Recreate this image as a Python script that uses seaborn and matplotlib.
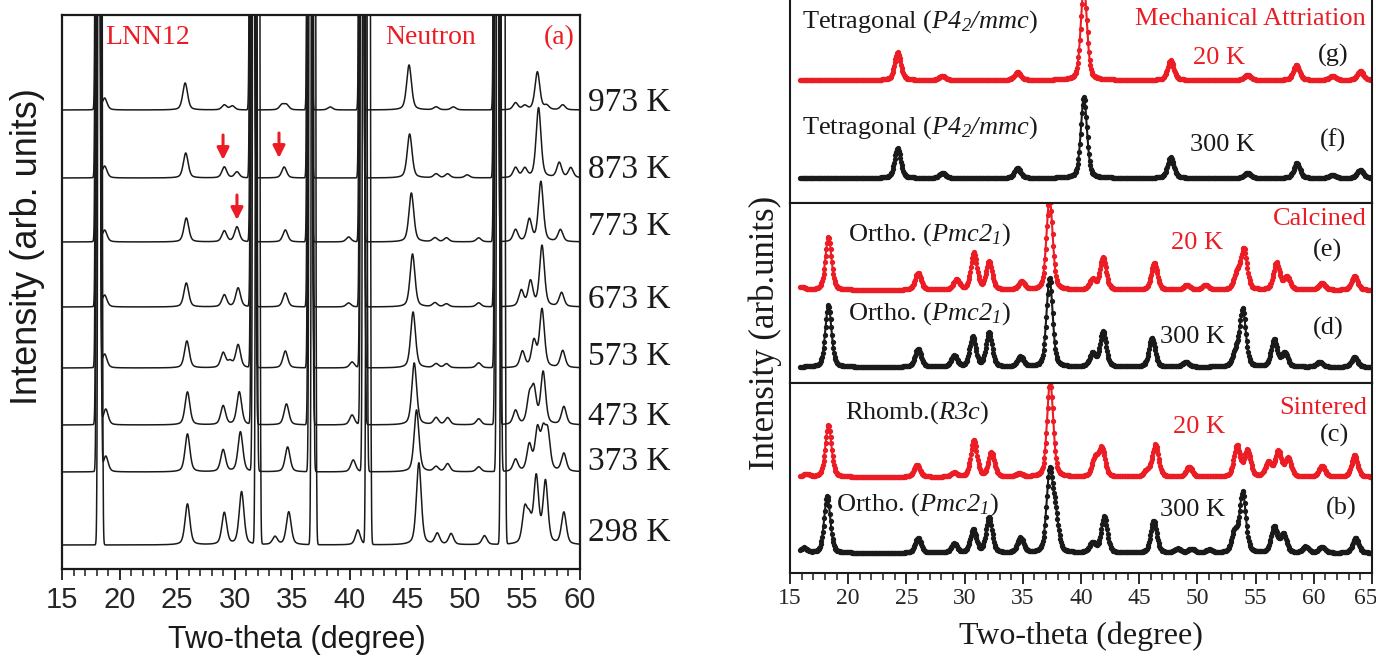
import numpy as np
import matplotlib
matplotlib.use('Agg')
import matplotlib.pyplot as plt
from matplotlib.transforms import ScaledTranslation
import seaborn as sns

# ---------------- data (left panel: LNN12 neutron patterns) ----------------
temps = ['973 K', '873 K', '773 K', '673 K', '573 K', '473 K', '373 K', '298 K']
left_base = [459, 391, 327, 262, 201, 144, 97, 24]          # baseline level (arb.)
big_973 = [18.10, 31.50, 36.50, 41.00, 52.70]
big_873 = [18.10, 31.52, 36.50, 41.00, 52.70]
big_773 = [18.10, 31.55, 36.50, 41.02, 52.72]
big_673 = [18.12, 31.58, 36.52, 41.05, 52.75]
big_573 = [18.12, 31.60, 36.55, 41.08, 52.78]
big_473 = [18.15, 31.65, 36.58, 41.12, 52.82]
big_373 = [18.20, 31.75, 36.65, 41.30, 52.95]
big_298 = [18.30, 32.00, 36.85, 41.60, 53.30]
big_height = 5000

pos_973 = [18.7, 25.7, 29.1, 29.8, 34.1, 34.5, 38.3, 45.15, 47.5, 49.0, 54.4, 55.2, 56.3, 57.1, 58.5]
hgt_973 = [12, 27, 5, 4, 5, 5, 3, 45, 3, 3, 7, 4, 38, 4, 5]
pos_873 = [18.7, 25.75, 29.1, 30.2, 34.3, 45.2, 47.5, 48.5, 50.2, 54.4, 55.2, 56.4, 58.2, 59.2]
hgt_873 = [12, 25, 11, 6, 11, 44, 4, 4, 3, 10, 9, 70, 15, 10]
pos_773 = [18.7, 25.8, 29.1, 30.2, 34.4, 39.9, 45.35, 47.4, 48.4, 51.2, 54.4, 55.6, 56.6, 58.3]
hgt_773 = [12, 24, 11, 15, 12, 5, 49, 4, 4, 4, 12, 22, 60, 12]
pos_673 = [18.7, 25.8, 29.1, 30.3, 34.4, 39.9, 45.45, 47.4, 48.4, 51.2, 54.9, 55.7, 56.7, 58.4]
hgt_673 = [12, 24, 12, 19, 14, 4, 53, 4, 3, 4, 16, 25, 61, 14]
pos_573 = [18.7, 25.85, 29.0, 29.6, 30.3, 34.4, 40.2, 45.5, 47.5, 48.4, 51.2, 55.0, 56.0, 56.7, 58.5]
hgt_573 = [14, 27, 15, 6, 23, 17, 6, 56, 4, 4, 5, 16, 26, 58, 17]
pos_473 = [18.8, 25.9, 29.0, 30.4, 34.5, 40.2, 45.6, 47.5, 48.5, 51.2, 54.4, 55.6, 56.0, 56.8, 58.6]
hgt_473 = [16, 33, 19, 33, 21, 10, 62, 7, 7, 6, 14, 26, 33, 52, 18]
pos_373 = [18.8, 25.9, 29.0, 30.5, 34.6, 40.3, 45.8, 47.5, 48.5, 51.2, 54.4, 55.6, 56.3, 56.8, 57.2, 58.6]
hgt_373 = [16, 38, 22, 40, 25, 12, 62, 5, 8, 5, 12, 26, 40, 35, 36, 18]
pos_298 = [25.9, 29.1, 30.6, 33.5, 34.7, 40.7, 46.0, 47.6, 48.8, 51.7, 55.2, 55.6, 56.2, 57.0, 58.6]
hgt_298 = [41, 32, 53, 8, 33, 15, 82, 11, 11, 9, 33, 22, 66, 62, 32]

# ---------------- data (right panel) ----------------
# (g) mechanical attrition 20 K, (f) 300 K
base_g, base_f = 123, 25
pos_g = [24.25, 28.1, 34.55, 40.25, 47.7, 54.3, 58.5, 61.6, 64.0]
hgt_g = [28, 4, 8, 95, 20, 5, 15, 4, 9]
pos_f = [24.25, 28.1, 34.55, 40.25, 47.7, 54.3, 58.55, 61.6, 64.0]
hgt_f = [30, 5, 10, 81, 21, 5, 15, 3, 8]
# (e) calcined 20 K, (d) 300 K
base_e, base_d = 93, 16
pos_e = [16.0, 18.3, 26.0, 29.3, 30.8, 32.1, 34.9, 37.3, 41.0, 41.9, 46.3, 49.1, 50.7, 53.4, 54.0, 56.8, 57.7, 60.7, 63.5]
hgt_e = [3, 53, 17, 10, 37, 28, 8, 92, 10, 32, 27, 5, 5, 16, 40, 27, 13, 7, 14]
pos_d = [18.3, 26.0, 29.1, 30.7, 32.1, 34.8, 37.3, 41.0, 41.9, 46.1, 49.0, 53.3, 53.9, 56.6, 57.5, 60.5, 63.5]
hgt_d = [62, 18, 11, 30, 34, 10, 89, 13, 35, 29, 5, 14, 57, 27, 14, 5, 10]
# (c) sintered 20 K, (b) 300 K
base_c, base_b = 96, 20
pos_c = [16.4, 18.3, 25.9, 29.1, 30.8, 32.3, 34.7, 37.35, 41.2, 41.8, 45.7, 46.4, 49.3, 53.4, 54.3, 56.1, 56.95, 57.8, 60.7, 63.5]
hgt_c = [3, 52, 12, 4, 37, 24, 3, 96, 18, 28, 6, 32, 10, 31, 26, 14, 25, 18, 11, 22]
pos_b = [16.2, 18.2, 26.0, 29.1, 30.75, 32.1, 34.8, 37.3, 37.8, 41.0, 42.0, 46.25, 48.3, 49.5, 51.0, 53.2, 53.9, 56.6, 57.4, 59.3, 60.7, 63.6]
hgt_b = [5, 57, 15, 9, 23, 35, 15, 78, 35, 10, 36, 32, 4, 4, 3, 20, 60, 26, 18, 6, 6, 15]

xticks_left = [15, 20, 25, 30, 35, 40, 45, 50, 55, 60]
xticks_right = [15, 20, 25, 30, 35, 40, 45, 50, 55, 60, 65]

# ---------------- style ----------------
sns.set_style('ticks')
plt.rcParams['font.family'] = ['Liberation Sans', 'DejaVu Sans']
plt.rcParams['mathtext.fontset'] = 'custom'
plt.rcParams['mathtext.rm'] = 'Liberation Serif:italic'
plt.rcParams['mathtext.it'] = 'Liberation Serif:italic'
plt.rcParams['mathtext.bf'] = 'Liberation Serif:bold'
SERIF = ['Liberation Serif', 'DejaVu Serif']
SANS = ['Liberation Sans', 'DejaVu Sans']
RED = '#ec1c24'
BLK = '#1a1a1a'

W, H = 1376, 657
fig = plt.figure(figsize=(W / 100, H / 100), dpi=100)


def box(l, t, r, b):
    return [l / W, 1 - b / H, (r - l) / W, (b - t) / H]


def ftext(px, py, s, **kw):
    fig.text(px / W, 1 - py / H, s, **kw)


def profile(x, base, pos, hgt, fwhm, eta):
    y = np.full(x.shape, float(base))
    for p, h in zip(pos, hgt):
        d = (x - p) / fwhm
        y += h * (eta / (1 + 4 * d ** 2) + (1 - eta) * np.exp(-4 * np.log(2) * d ** 2))
    return y


# ---------------- left panel ----------------
axL = fig.add_axes(box(62, 15, 580, 569))
xl = np.arange(15, 60.0001, 0.02)
bigs = [big_973, big_873, big_773, big_673, big_573, big_473, big_373, big_298]
poss = [pos_973, pos_873, pos_773, pos_673, pos_573, pos_473, pos_373, pos_298]
hgts = [hgt_973, hgt_873, hgt_773, hgt_673, hgt_573, hgt_473, hgt_373, hgt_298]
for base, bp, pp, hh in zip(left_base, bigs, poss, hgts):
    y = profile(xl, base, pp, hh, 0.5, 0.45)
    y += profile(xl, 0, bp, [big_height] * len(bp), 0.22, 0.0)
    sns.lineplot(x=xl, y=y, ax=axL, color=BLK, lw=1.1, estimator=None, sort=False)
axL.set_xlim(15, 60)
axL.set_ylim(0, 554)
axL.set_yticks([])
axL.set_xticks(xticks_left)
axL.set_xticks(range(15, 61), minor=True)
axL.set_xticklabels([str(t) for t in xticks_left], fontfamily=SANS, fontsize=21)
axL.tick_params(axis='x', which='major', direction='out', length=8, width=1.3, pad=4, color=BLK)
axL.tick_params(axis='x', which='minor', direction='out', length=5, width=1.1, color=BLK)
axL.set_xlabel('')
axL.set_ylabel('')
for s in axL.spines.values():
    s.set_linewidth(1.6)
    s.set_color(BLK)

# arrows
for ax_x, y0, y1 in [(28.99, 434, 409), (33.85, 436, 411), (30.2, 374, 349)]:
    axL.annotate('', xy=(ax_x, y1), xytext=(ax_x, y0),
                 arrowprops=dict(arrowstyle='-|>', color=RED, lw=2.2, mutation_scale=18,
                                 shrinkA=0, shrinkB=0))

ftext(105, 38, 'LNN12', color=RED, fontfamily=SERIF, fontsize=20, va='center', ha='left')
ftext(385, 38, 'Neutron', color=RED, fontfamily=SERIF, fontsize=20, va='center', ha='left')
ftext(544, 38, '(a)', color=RED, fontfamily=SERIF, fontsize=20, va='center', ha='left')
temp_y = [103, 170, 227, 300, 357, 417, 462, 533]
for t, ty in zip(temps, temp_y):
    ftext(588, ty, t, color=BLK, fontfamily=SERIF, fontsize=24, va='center', ha='left')
ftext(28, 247, 'Intensity (arb. units)', rotation=90, fontfamily=SANS, fontsize=26,
      va='center', ha='center', color=BLK)
ftext(297, 640, 'Two-theta (degree)', fontfamily=SANS, fontsize=22, va='center', ha='center', color=BLK)

# ---------------- right panel ----------------
xr = np.arange(15.9, 65.0001, 0.06)
panels = [
    (box(790, 0, 1372, 203), 203, [(base_g, pos_g, hgt_g, RED), (base_f, pos_f, hgt_f, BLK)]),
    (box(790, 203, 1372, 383), 180, [(base_e, pos_e, hgt_e, RED), (base_d, pos_d, hgt_d, BLK)]),
    (box(790, 383, 1372, 573), 190, [(base_c, pos_c, hgt_c, RED), (base_b, pos_b, hgt_b, BLK)]),
]
axes_r = []
for i, (rect, hgt_px, curves) in enumerate(panels):
    ax = fig.add_axes(rect)
    axes_r.append(ax)
    for base, pp, hh, col in curves:
        y = profile(xr, base, pp, hh, 0.62, 0.35)
        sns.lineplot(x=xr, y=y, ax=ax, color=col, lw=1.5, marker='o', markersize=3.8,
                     markeredgewidth=0, estimator=None, sort=False)
    ax.set_xlim(15, 65)
    ax.set_ylim(0, hgt_px)
    ax.set_yticks([])
    ax.set_xlabel('')
    ax.set_ylabel('')
    for s in ax.spines.values():
        s.set_linewidth(1.5)
        s.set_color(BLK)
    if i == 0:
        ax.spines['top'].set_visible(False)
    if i < 2:
        ax.set_xticks([])
        ax.tick_params(axis='x', bottom=False, labelbottom=False)
    else:
        ax.set_xticks(xticks_right)
        ax.set_xticks(range(15, 66), minor=True)
        ax.set_xticklabels([str(t) for t in xticks_right], fontfamily=SERIF, fontsize=17)
        ax.tick_params(axis='x', which='major', direction='out', length=8, width=1.3, pad=3, color=BLK)
        ax.tick_params(axis='x', which='minor', direction='out', length=5, width=1.1, color=BLK)
        last = ax.get_xticklabels()[-1]
        last.set_transform(last.get_transform() + ScaledTranslation(-6 / 100, 0, fig.dpi_scale_trans))

tkw = dict(fontfamily=SERIF, fontsize=19, va='center')
ftext(802, 22, r'Tetragonal ($P4_{2}/mmc$)', color=BLK, ha='left', **tkw)
ftext(802, 128, r'Tetragonal ($P4_{2}/mmc$)', color=BLK, ha='left', **tkw)
ftext(1366, 19, 'Mechanical Attriation', color=RED, ha='right', **tkw)
ftext(1193, 58, '20 K', color=RED, ha='left', **tkw)
ftext(1318, 55, '(g)', color=BLK, ha='left', **tkw)
ftext(1190, 145, '300 K', color=BLK, ha='left', **tkw)
ftext(1320, 140, '(f)', color=BLK, ha='left', **tkw)

ftext(1367, 219, 'Calcined', color=RED, ha='right', **tkw)
ftext(848, 235, r'Ortho. ($Pmc2_{1}$)', color=BLK, ha='left', **tkw)
ftext(1171, 243, '20 K', color=RED, ha='left', **tkw)
ftext(1313, 250, '(e)', color=BLK, ha='left', **tkw)
ftext(848, 314, r'Ortho. ($Pmc2_{1}$)', color=BLK, ha='left', **tkw)
ftext(1160, 337, '300 K', color=BLK, ha='left', **tkw)
ftext(1313, 328, '(d)', color=BLK, ha='left', **tkw)

ftext(1367, 408, 'Sintered', color=RED, ha='right', **tkw)
ftext(845, 413, r'Rhomb.($R3c$)', color=BLK, ha='left', **tkw)
ftext(1173, 427, '20 K', color=RED, ha='left', **tkw)
ftext(1320, 435, '(c)', color=BLK, ha='left', **tkw)
ftext(836, 505, r'Ortho. ($Pmc2_{1}$)', color=BLK, ha='left', **tkw)
ftext(1160, 510, '300 K', color=BLK, ha='left', **tkw)
ftext(1326, 508, '(b)', color=BLK, ha='left', **tkw)

ftext(765, 333, 'Intensity (arb.units)', rotation=90, fontfamily=SERIF, fontsize=25,
      va='center', ha='center', color=BLK)
ftext(1081, 636, 'Two-theta (degree)', fontfamily=SERIF, fontsize=23, va='center', ha='center', color=BLK)

fig.savefig('out.png', dpi=100, facecolor='white')
